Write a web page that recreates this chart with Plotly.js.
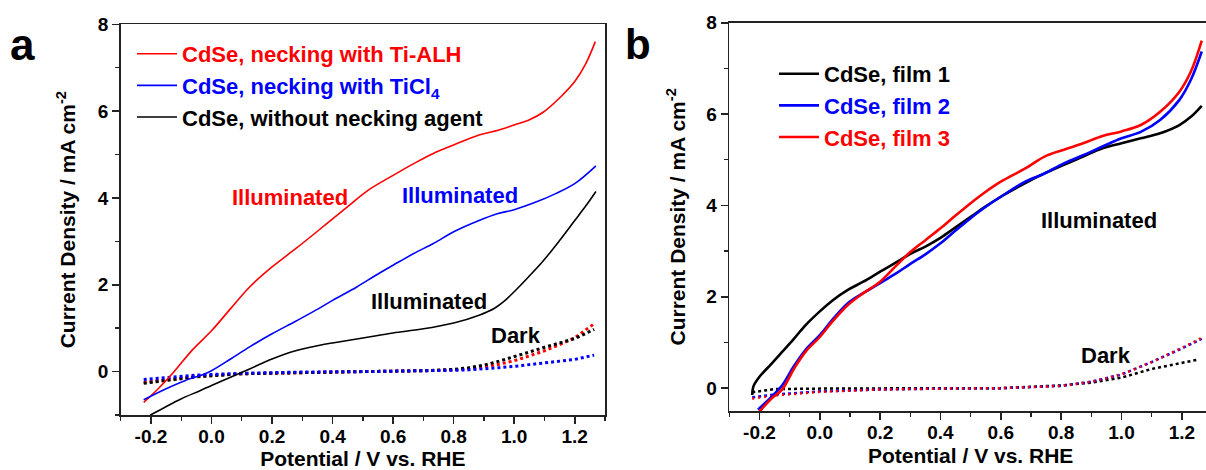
<!DOCTYPE html>
<html>
<head>
<meta charset="utf-8">
<script src="https://cdn.plot.ly/plotly-3.0.1.min.js"></script>
<style>
html,body{margin:0;padding:0;overflow:hidden;background:#fff;}
#chart{width:1214px;height:470px;}
</style>
</head>
<body>
<div id="chart"></div>
<script>
// ---------- Panel a data ----------
const aRedIllumX = [-0.224,-0.177,-0.126,-0.063,0.0,0.063,0.126,0.2,0.278,0.353,0.4,0.455,0.518,0.6,0.668,0.731,0.8,0.884,0.947,1.0,1.047,1.097,1.154,1.2,1.237,1.268];
const aRedIllumY = [-0.71,-0.4,-0.02,0.5,0.94,1.45,1.95,2.41,2.83,3.25,3.52,3.83,4.18,4.52,4.79,5.02,5.22,5.45,5.56,5.68,5.79,5.98,6.33,6.68,7.1,7.6];
const aBlueIllumX = [-0.224,-0.164,-0.088,-0.025,0.0,0.063,0.126,0.2,0.278,0.354,0.4,0.48,0.543,0.6,0.668,0.733,0.8,0.884,0.947,1.0,1.074,1.137,1.2,1.27];
const aBlueIllumY = [-0.65,-0.44,-0.21,-0.06,0.02,0.29,0.57,0.87,1.16,1.45,1.64,1.95,2.22,2.45,2.72,2.95,3.22,3.48,3.64,3.73,3.91,4.1,4.33,4.74];
const aBlackIllumX = [-0.202,-0.164,-0.101,-0.038,0.0,0.063,0.126,0.2,0.278,0.354,0.4,0.505,0.6,0.695,0.8,0.884,0.935,0.97,1.0,1.047,1.097,1.15,1.2,1.238,1.27];
const aBlackIllumY = [-1.0,-0.86,-0.63,-0.44,-0.32,-0.13,0.06,0.29,0.48,0.6,0.66,0.78,0.89,0.98,1.12,1.3,1.46,1.64,1.84,2.18,2.56,3.02,3.48,3.83,4.15];
const aDarkX = [-0.224,-0.15,-0.05,0.1,0.3,0.5,0.7,0.8,0.85,0.9,0.95,1.0,1.05,1.1,1.15,1.2,1.264];
const aRedDarkY = [-0.25,-0.19,-0.11,-0.05,-0.02,0.0,0.02,0.04,0.07,0.11,0.17,0.25,0.36,0.48,0.62,0.78,1.1];
const aBlackDarkY = [-0.27,-0.2,-0.12,-0.05,-0.02,0.0,0.02,0.05,0.09,0.15,0.24,0.34,0.45,0.56,0.66,0.76,0.97];
const aBlueDarkY = [-0.18,-0.14,-0.08,-0.04,-0.01,0.0,0.01,0.03,0.04,0.06,0.09,0.12,0.16,0.19,0.23,0.28,0.38];

// ---------- Panel b data ----------
const bBlackIllumX = [-0.224,-0.22,-0.2,-0.162,-0.124,-0.086,-0.047,0.0,0.042,0.093,0.144,0.2,0.25,0.3,0.35,0.4,0.45,0.5,0.55,0.6,0.681,0.745,0.809,0.873,0.937,1.0,1.064,1.128,1.192,1.23,1.266];
const bBlackIllumY = [-0.15,0.04,0.25,0.52,0.8,1.08,1.38,1.68,1.92,2.15,2.33,2.55,2.74,2.94,3.1,3.29,3.52,3.75,3.98,4.19,4.49,4.7,4.89,5.07,5.25,5.36,5.47,5.58,5.76,5.94,6.18];
const bIllumX = [-0.205,-0.162,-0.124,-0.086,-0.047,0.0,0.042,0.093,0.144,0.2,0.25,0.3,0.35,0.4,0.45,0.5,0.55,0.6,0.681,0.745,0.809,0.873,0.937,1.0,1.064,1.128,1.192,1.23,1.266];
const bBlueIllumY = [-0.47,-0.2,0.07,0.48,0.84,1.16,1.5,1.86,2.08,2.3,2.5,2.72,2.93,3.17,3.45,3.72,3.97,4.19,4.52,4.7,4.92,5.1,5.29,5.47,5.61,5.87,6.31,6.75,7.37];
const bRedIllumY = [-0.55,-0.24,-0.02,0.42,0.8,1.12,1.46,1.82,2.08,2.33,2.66,2.98,3.24,3.5,3.78,4.05,4.3,4.52,4.81,5.07,5.22,5.36,5.52,5.62,5.76,6.05,6.49,6.93,7.61];
const bBlackDarkX = [-0.224,-0.15,0.0,0.2,0.4,0.6,0.8,0.9,1.0,1.1,1.2,1.25];
const bBlackDarkY = [-0.09,-0.02,-0.01,0.0,0.0,0.0,0.06,0.12,0.23,0.42,0.55,0.62];
const bColorDarkX = [-0.224,-0.15,0.0,0.2,0.4,0.6,0.8,0.85,0.9,1.0,1.1,1.2,1.266];
const bRedDarkY = [-0.23,-0.16,-0.08,-0.03,-0.01,0.0,0.05,0.1,0.14,0.3,0.57,0.88,1.1];
const bBlueDarkY = [-0.2,-0.14,-0.07,-0.03,-0.01,0.0,0.05,0.1,0.14,0.3,0.57,0.87,1.08];

// ---------- Labels ----------
const aLegendNames = ['CdSe, necking with Ti-ALH','CdSe, necking with TiCl<sub>4</sub>','CdSe, without necking agent'];
const bLegendNames = ['CdSe, film 1','CdSe, film 2','CdSe, film 3'];
const xTickVals = [-0.2,0.0,0.2,0.4,0.6,0.8,1.0,1.2];
const xTickText = ['-0.2','0.0','0.2','0.4','0.6','0.8','1.0','1.2'];
const yTickVals = [0,2,4,6,8];
const yTickText = ['0','2','4','6','8'];
const xTitle = 'Potential / V vs. RHE';
const yTitle = 'Current Density / mA cm<sup>-2</sup>';

const RED = '#ff0000', BLUE = '#0000ff', BLACK = '#000000';
const col = (c, t) => '<span style="color:' + c + '">' + t + '</span>';

const traces = [
  // panel a dark
  {x: aDarkX, y: aRedDarkY, mode:'lines', line:{color:RED, width:3, dash:'dot'}, showlegend:false, xaxis:'x', yaxis:'y'},
  {x: aDarkX, y: aBlackDarkY, mode:'lines', line:{color:BLACK, width:3, dash:'dot'}, showlegend:false, xaxis:'x', yaxis:'y'},
  {x: aDarkX, y: aBlueDarkY, mode:'lines', line:{color:BLUE, width:3, dash:'dot'}, showlegend:false, xaxis:'x', yaxis:'y'},
  // panel a illuminated
  {x: aRedIllumX, y: aRedIllumY, mode:'lines', line:{color:RED, width:1.6, shape:'spline'}, name: col(RED, aLegendNames[0]), legend:'legend', legendgroup:'a1', xaxis:'x', yaxis:'y'},
  {x: aBlueIllumX, y: aBlueIllumY, mode:'lines', line:{color:BLUE, width:1.6, shape:'spline'}, name: col(BLUE, aLegendNames[1]), legend:'legend', legendgroup:'a2', xaxis:'x', yaxis:'y'},
  {x: aBlackIllumX, y: aBlackIllumY, mode:'lines', line:{color:BLACK, width:1.6, shape:'spline'}, name: col(BLACK, aLegendNames[2]), legend:'legend', legendgroup:'a3', xaxis:'x', yaxis:'y'},
  // panel b dark
  {x: bBlackDarkX, y: bBlackDarkY, mode:'lines', line:{color:BLACK, width:2.5, dash:'dot'}, showlegend:false, xaxis:'x2', yaxis:'y2'},
  {x: bColorDarkX, y: bBlueDarkY, mode:'lines', line:{color:BLUE, width:2.5, dash:'dot'}, showlegend:false, xaxis:'x2', yaxis:'y2'},
  {x: bColorDarkX, y: bRedDarkY, mode:'lines', line:{color:RED, width:2.5, dash:'2px,4px'}, showlegend:false, xaxis:'x2', yaxis:'y2'},
  // panel b illuminated
  {x: bBlackIllumX, y: bBlackIllumY, mode:'lines', line:{color:BLACK, width:2.6, shape:'spline'}, name: col(BLACK, bLegendNames[0]), legend:'legend2', legendgroup:'b1', xaxis:'x2', yaxis:'y2'},
  {x: bIllumX, y: bBlueIllumY, mode:'lines', line:{color:BLUE, width:2.6, shape:'spline'}, name: col(BLUE, bLegendNames[1]), legend:'legend2', legendgroup:'b2', xaxis:'x2', yaxis:'y2'},
  {x: bIllumX, y: bRedIllumY, mode:'lines', line:{color:RED, width:2.6, shape:'spline'}, name: col(RED, bLegendNames[2]), legend:'legend2', legendgroup:'b3', xaxis:'x2', yaxis:'y2'}
];

const W = 1214, H = 470;
const FONT = 'Liberation Sans, Arial, Helvetica, sans-serif';
const LC = '#222';

function xAxis(dom, anchor) {
  return {
    domain: dom, anchor: anchor, range: [-0.3, 1.3], autorange: false,
    showline: true, linecolor: LC, linewidth: 1.6, mirror: true,
    ticks: 'outside', ticklen: 7, tickwidth: 1.6, tickcolor: LC,
    tickmode: 'array', tickvals: xTickVals, ticktext: xTickText,
    ticklabelstandoff: -3,
    minor: {tickmode: 'linear', tick0: 0, dtick: 0.1, ticks: 'outside', ticklen: 4, tickwidth: 1.4, tickcolor: LC, showgrid: false},
    showgrid: false, zeroline: false, automargin: false,
    tickfont: {family: FONT, size: 19, weight: 'bold', color: '#000'},
    title: {text: xTitle, font: {family: FONT, size: 21, weight: 'bold', color: '#000'}, standoff: 6}
  };
}
function yAxis(dom, anchor, rng, standoff) {
  return {
    domain: dom, anchor: anchor, range: rng, autorange: false,
    showline: true, linecolor: LC, linewidth: 1.6, mirror: true,
    ticks: 'outside', ticklen: 7, tickwidth: 1.6, tickcolor: LC,
    tickmode: 'array', tickvals: yTickVals, ticktext: yTickText,
    minor: {tickmode: 'linear', tick0: 0, dtick: 1, ticks: 'outside', ticklen: 4, tickwidth: 1.4, tickcolor: LC, showgrid: false},
    showgrid: false, zeroline: false, automargin: false,
    tickfont: {family: FONT, size: 19, weight: 'bold', color: '#000'},
    title: {text: yTitle, font: {family: FONT, size: 21, weight: 'bold', color: '#000'}, standoff: standoff}
  };
}

const annFont = (c) => ({family: FONT, size: 22, weight: 'bold', color: c});
const ann = (xr, yr, x, y, t, c) => ({xref: xr, yref: yr, x: x, y: y, text: t, showarrow: false, xanchor: 'center', yanchor: 'middle', font: annFont(c)});
const layout = {
  width: W, height: H,
  margin: {l: 0, r: 0, t: 0, b: 0},
  paper_bgcolor: '#fff', plot_bgcolor: '#fff',
  font: {family: FONT, color: '#000'},
  showlegend: true,
  xaxis: xAxis([120.7 / W, 605 / W], 'y'),
  yaxis: yAxis([1 - 415 / H, 1 - 24.3 / H], 'x', [-1, 8], 16),
  xaxis2: xAxis([729.3 / W, 1212 / W], 'y2'),
  yaxis2: yAxis([1 - 411 / H, 1 - 22.7 / H], 'x2', [-0.5, 8], 15),
  legend: {x: 132 / W, y: 1 - 33 / H, xanchor: 'left', yanchor: 'top', bgcolor: 'rgba(0,0,0,0)', borderwidth: 0,
           font: {family: FONT, size: 22, weight: 'bold'}, tracegroupgap: 0, itemwidth: 40},
  legend2: {x: 774 / W, y: 1 - 53 / H, xanchor: 'left', yanchor: 'top', bgcolor: 'rgba(0,0,0,0)', borderwidth: 0,
            font: {family: FONT, size: 22, weight: 'bold'}, tracegroupgap: 0, itemwidth: 40},
  annotations: [
    {xref: 'paper', yref: 'paper', x: 22 / W, y: 1 - 45 / H, text: 'a', showarrow: false, xanchor: 'center', yanchor: 'middle', font: {family: FONT, size: 44, weight: 'bold', color: '#000'}},
    {xref: 'paper', yref: 'paper', x: 637.6 / W, y: 1 - 44 / H, text: 'b', showarrow: false, xanchor: 'center', yanchor: 'middle', font: {family: FONT, size: 42, weight: 'bold', color: '#000'}},
    ann('x', 'y', 0.258, 4.0, 'Illuminated', RED),
    ann('x', 'y', 0.822, 4.06, 'Illuminated', BLUE),
    ann('x', 'y', 0.719, 1.615, 'Illuminated', BLACK),
    ann('x', 'y', 1.007, 0.83, 'Dark', BLACK),
    ann('x2', 'y2', 0.924, 3.68, 'Illuminated', BLACK),
    ann('x2', 'y2', 0.947, 0.71, 'Dark', BLACK)
  ]
};

Plotly.newPlot('chart', traces, layout, {displayModeBar: false, staticPlot: true});
</script>
</body>
</html>
